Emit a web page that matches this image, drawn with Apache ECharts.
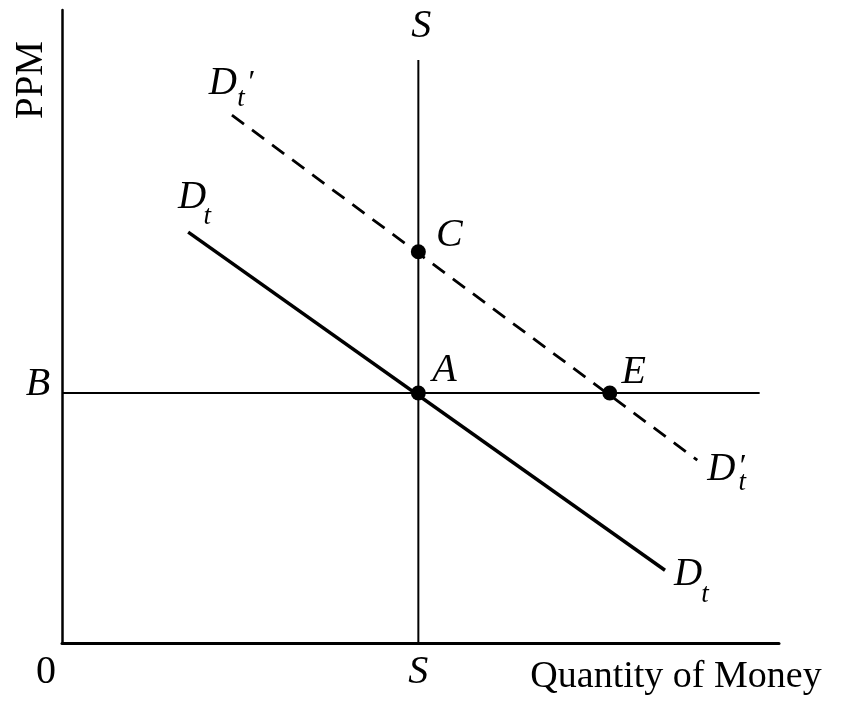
<!DOCTYPE html>
<html>
<head>
<meta charset="utf-8">
<script src="https://cdn.jsdelivr.net/npm/echarts@6/dist/echarts.min.js"></script>
<style>
html,body{margin:0;padding:0;background:#fff;}
#main{width:853px;height:706px;}
</style>
</head>
<body>
<div id="main"></div>
<script>
// ---- data (axis units 0..100) ----
const axisMax = 100;
const supplyQty = 49.7;          // vertical S line position
const supplyTop = 92.1;          // top of S line
const ppmLevel = 39.5;           // horizontal B line level
const ppmLineEnd = 97.3;         // right end of B line
const dtX = [17.6, 84.1];        // D_t demand curve
const dtY = [64.9, 11.5];
const dtPrimeX = [23.7, 88.6];   // D_t' shifted demand curve
const dtPrimeY = [83.4, 28.9];
const pointNames = ['A', 'C', 'E'];
const pointX = [49.7, 49.7, 76.4];
const pointY = [39.5, 61.8, 39.5];
const xAxisTitle = 'Quantity of Money';
const yAxisTitle = 'PPM';

const ink = '#000';
const serif = 'Liberation Serif, Times New Roman, serif';

function txt(x, y, text, dx, dy, size, italic, rotate) {
  return {
    value: [x, y],
    label: {
      show: true,
      position: 'inside',
      formatter: text,
      offset: [dx, dy],
      fontSize: size,
      fontStyle: italic ? 'italic' : 'normal',
      rotate: rotate || 0,
      color: '#000',
      textBorderWidth: 0,
      opacity: 1
    }
  };
}

const pointOffsets = { A: [26, -22], C: [31, -16], E: [24, -20] };

const labels = [
  txt(supplyQty, supplyTop, 'S', 3, -34, 40, true),
  txt(supplyQty, 0, 'S', 0, 29, 40, true),
  txt(0, 0, '0', -16, 29, 40, false),
  txt(0, ppmLevel, 'B', -24, -8, 40, true),
  // rotated label: offset is applied in the rotated frame
  txt(0, axisMax, yAxisTitle, -70, -30, 39, false, 90),
  txt(axisMax, 0, xAxisTitle, -103, 34, 38, false),
  // D_t upper-left
  txt(dtX[0], dtY[0], 'D', 4, -34, 39, true),
  txt(dtX[0], dtY[0], 't', 19, -15, 27, true),
  // D_t lower-right
  txt(dtX[1], dtY[1], 'D', 23, 5, 39, true),
  txt(dtX[1], dtY[1], 't', 40, 25, 27, true),
  // D_t' upper-left
  txt(dtPrimeX[0], dtPrimeY[0], 'D', -9, -31, 39, true),
  txt(dtPrimeX[0], dtPrimeY[0], '\u2032', 18, -31, 32, true),
  txt(dtPrimeX[0], dtPrimeY[0], 't', 9, -16, 27, true),
  // D_t' lower-right
  txt(dtPrimeX[1], dtPrimeY[1], 'D', 24, 10, 39, true),
  txt(dtPrimeX[1], dtPrimeY[1], '\u2032', 44, 8, 32, true),
  txt(dtPrimeX[1], dtPrimeY[1], 't', 45, 23, 27, true)
];
pointNames.forEach(function (n, i) {
  labels.push(txt(pointX[i], pointY[i], n, pointOffsets[n][0], pointOffsets[n][1], 40, true));
});

const chart = echarts.init(document.getElementById('main'), null, { renderer: 'canvas' });
chart.setOption({
  animation: false,
  backgroundColor: '#fff',
  grid: { left: 62, right: 74, top: 10, bottom: 63 },
  xAxis: {
    type: 'value', min: 0, max: axisMax,
    axisLine: { show: true, onZero: false, lineStyle: { color: ink, width: 3 } },
    axisTick: { show: false }, axisLabel: { show: false }, splitLine: { show: false }
  },
  yAxis: {
    type: 'value', min: 0, max: axisMax,
    axisLine: { show: true, onZero: false, lineStyle: { color: ink, width: 2.5 } },
    axisTick: { show: false }, axisLabel: { show: false }, splitLine: { show: false }
  },
  series: [
    {
      type: 'line', symbol: 'none', silent: true,
      lineStyle: { color: ink, width: 2 },
      data: [[supplyQty, 0], [supplyQty, supplyTop]]
    },
    {
      type: 'line', symbol: 'none', silent: true,
      lineStyle: { color: ink, width: 2 },
      data: [[0, ppmLevel], [ppmLineEnd, ppmLevel]]
    },
    {
      type: 'line', symbol: 'none', silent: true,
      lineStyle: { color: ink, width: 3.5 },
      data: dtX.map(function (x, i) { return [x, dtY[i]]; })
    },
    {
      type: 'line', symbol: 'none', silent: true,
      lineStyle: { color: ink, width: 2.8, type: [15, 10] },
      data: dtPrimeX.map(function (x, i) { return [x, dtPrimeY[i]]; })
    },
    {
      type: 'scatter', symbol: 'circle', symbolSize: 15, silent: true, clip: false,
      itemStyle: { color: ink, opacity: 1 },
      data: pointX.map(function (x, i) { return [x, pointY[i]]; }),
      z: 5
    },
    {
      type: 'scatter', symbolSize: 0, silent: true, clip: false,
      itemStyle: { color: 'transparent' },
      label: { show: true, color: '#000', fontFamily: serif },
      data: labels,
      z: 6
    }
  ]
});
</script>
</body>
</html>
